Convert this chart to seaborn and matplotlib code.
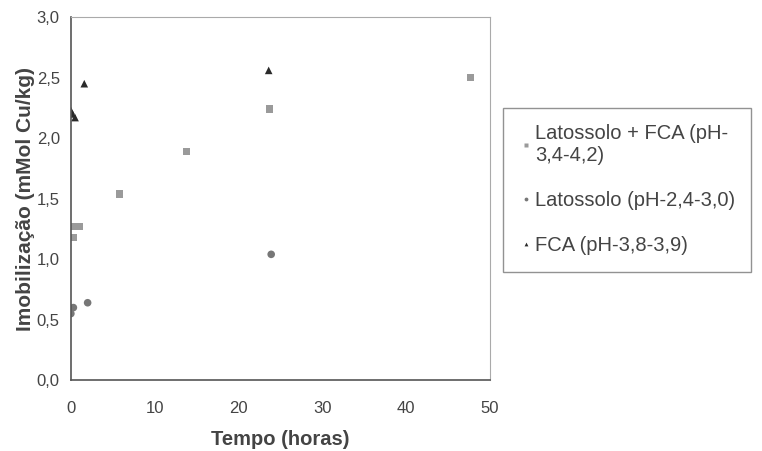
import numpy as np
import pandas as pd
import matplotlib
matplotlib.use("Agg")
import matplotlib.pyplot as plt
import seaborn as sns

# dados
t_lat_fca = [0.2, 0.6, 1.0, 0.3, 5.8, 13.8, 23.7, 47.7]
y_lat_fca = [1.27, 1.27, 1.27, 1.18, 1.54, 1.89, 2.24, 2.50]

t_lat = [0.0, 0.3, 2.0, 23.9]
y_lat = [0.55, 0.60, 0.64, 1.04]

t_fca = [0.0, 0.2, 0.5, 1.6, 23.6]
y_fca = [2.23, 2.20, 2.17, 2.45, 2.56]

labels = ["Latossolo + FCA (pH-\n3,4-4,2)", "Latossolo (pH-2,4-3,0)",
          "FCA (pH-3,8-3,9)"]

df = pd.concat([
    pd.DataFrame({"Tempo": t_lat_fca, "Imob": y_lat_fca, "serie": labels[0]}),
    pd.DataFrame({"Tempo": t_lat, "Imob": y_lat, "serie": labels[1]}),
    pd.DataFrame({"Tempo": t_fca, "Imob": y_fca, "serie": labels[2]}),
], ignore_index=True)

sns.set_style("white")
plt.rcParams['font.family'] = ['Liberation Sans', 'DejaVu Sans']

fig = plt.figure(figsize=(7.62, 4.51), dpi=100)
ax = fig.add_axes([0.093, 0.157, 0.55, 0.805])

sns.scatterplot(data=df, x="Tempo", y="Imob", hue="serie", style="serie",
                palette=["#9a9a9a", "#777777", "#2a2a2a"],
                markers=["s", "o", "^"], s=30, edgecolor="none",
                ax=ax, legend=True)

ax.set_xlim(0, 50)
ax.set_ylim(0, 3)
ax.set_xticks([0, 10, 20, 30, 40, 50])
ax.set_yticks(np.arange(0, 3.01, 0.5))
ax.set_yticklabels([f"{v:.1f}".replace(".", ",") for v in np.arange(0, 3.01, 0.5)])
ax.tick_params(direction="inout", length=8, width=1, colors="#555555",
               labelsize=12, labelcolor="#444444", pad=4)
ax.tick_params(axis="x", pad=11)

for side in ["left", "bottom"]:
    ax.spines[side].set_color("#555555")
    ax.spines[side].set_linewidth(1.2)
for side in ["top", "right"]:
    ax.spines[side].set_color("#aaaaaa")
    ax.spines[side].set_linewidth(0.8)

ax.set_xlabel("Tempo (horas)", fontsize=14.5, fontweight="bold", color="#444444",
              labelpad=10)
ax.set_ylabel("Imobilização (mMol Cu/kg)", fontsize=15, fontweight="bold",
              color="#444444", labelpad=1)

handles, lbls = ax.get_legend_handles_labels()
ax.get_legend().remove()
leg = fig.legend(handles, lbls, loc="upper left", bbox_to_anchor=(0.652, 0.774),
                 frameon=True, fontsize=14.5, handletextpad=0.1,
                 handlelength=0.7, markerscale=0.5, labelspacing=1.3,
                 borderpad=0.8, borderaxespad=0.3, fancybox=False)
leg.get_frame().set_edgecolor("#777777")
leg.get_frame().set_linewidth(1.0)
for txt in leg.get_texts():
    txt.set_color("#444444")

fig.savefig("out.png", dpi=100)
